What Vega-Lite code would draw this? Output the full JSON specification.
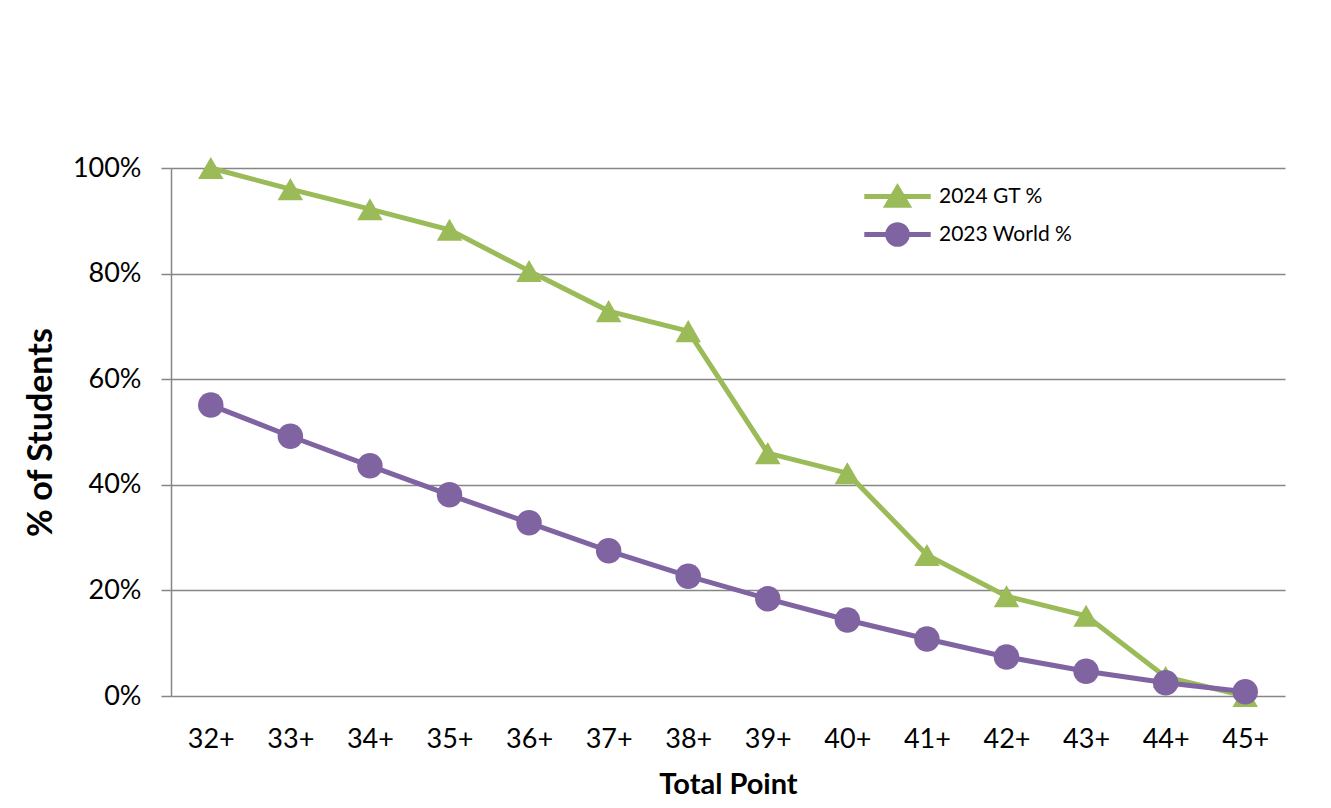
{
  "$schema": "https://vega.github.io/schema/vega-lite/v6.json",
  "width": 1114,
  "height": 528,
  "autosize": {"type": "none"},
  "padding": {"left": 171, "top": 168, "right": 46, "bottom": 112},
  "background": "white",
  "config": {
    "font": "Lato",
    "view": {"stroke": null},
    "axis": {"labelFont": "Lato", "titleFont": "Lato", "labelColor": "#000000", "titleColor": "#000000"}
  },
  "data": {
    "values": [
      {"point": "32+", "series": "2024 GT %", "value": 1.0},
      {"point": "33+", "series": "2024 GT %", "value": 0.96},
      {"point": "34+", "series": "2024 GT %", "value": 0.922},
      {"point": "35+", "series": "2024 GT %", "value": 0.883},
      {"point": "36+", "series": "2024 GT %", "value": 0.805},
      {"point": "37+", "series": "2024 GT %", "value": 0.729},
      {"point": "38+", "series": "2024 GT %", "value": 0.691},
      {"point": "39+", "series": "2024 GT %", "value": 0.46},
      {"point": "40+", "series": "2024 GT %", "value": 0.422},
      {"point": "41+", "series": "2024 GT %", "value": 0.267},
      {"point": "42+", "series": "2024 GT %", "value": 0.189},
      {"point": "43+", "series": "2024 GT %", "value": 0.152},
      {"point": "44+", "series": "2024 GT %", "value": 0.036},
      {"point": "45+", "series": "2024 GT %", "value": 0.0},
      {"point": "32+", "series": "2023 World %", "value": 0.551},
      {"point": "33+", "series": "2023 World %", "value": 0.492},
      {"point": "34+", "series": "2023 World %", "value": 0.436},
      {"point": "35+", "series": "2023 World %", "value": 0.381},
      {"point": "36+", "series": "2023 World %", "value": 0.328},
      {"point": "37+", "series": "2023 World %", "value": 0.275},
      {"point": "38+", "series": "2023 World %", "value": 0.227},
      {"point": "39+", "series": "2023 World %", "value": 0.184},
      {"point": "40+", "series": "2023 World %", "value": 0.144},
      {"point": "41+", "series": "2023 World %", "value": 0.108},
      {"point": "42+", "series": "2023 World %", "value": 0.074},
      {"point": "43+", "series": "2023 World %", "value": 0.047},
      {"point": "44+", "series": "2023 World %", "value": 0.025},
      {"point": "45+", "series": "2023 World %", "value": 0.008}
    ]
  },
  "encoding": {
    "x": {
      "field": "point", "type": "ordinal",
      "scale": {"type": "point", "padding": 0.5},
      "axis": {
        "title": "Total Point", "titleFontSize": 29, "titleFontWeight": "bold", "titlePadding": 18,
        "labelFontSize": 27, "labelAngle": 0, "labelPadding": 30, "ticks": false,
        "domain": false, "grid": false
      }
    },
    "y": {
      "field": "value", "type": "quantitative",
      "scale": {"domain": [0, 1]},
      "axis": {
        "title": "% of Students", "titleFontSize": 34, "titleFontWeight": "bold", "titlePadding": 14,
        "format": "%", "values": [0, 0.2, 0.4, 0.6, 0.8, 1.0],
        "labelFontSize": 27, "labelPadding": 20, "tickSize": 10, "tickColor": "#868686", "tickWidth": 1.5,
        "domainColor": "#868686", "domainWidth": 1.5,
        "grid": true, "gridColor": "#868686", "gridWidth": 1.5
      }
    },
    "color": {
      "field": "series", "type": "nominal",
      "scale": {"domain": ["2024 GT %", "2023 World %"], "range": ["#9BBB59", "#8064A2"]},
      "legend": {
        "title": null, "orient": "none", "legendX": 708, "legendY": 10,
        "labelFontSize": 21, "labelFont": "Lato", "labelColor": "#000000",
        "symbolSize": 1000, "symbolStrokeWidth": 5, "rowPadding": -2, "labelOffset": 23,
        "encode": {
          "symbols": {
            "update": {
              "shape": {"signal": "datum.value === '2024 GT %' ? 'M-2.1,0H2.1M-0.65,0.55L0,-0.55L0.65,0.55Z' : 'M-2.1,0H2.1M0.62,0A0.62,0.62 0 1,1 -0.62,0A0.62,0.62 0 1,1 0.62,0Z'"},
              "fill": {"signal": "datum.value === '2024 GT %' ? '#9BBB59' : '#8064A2'"},
              "stroke": {"signal": "datum.value === '2024 GT %' ? '#9BBB59' : '#8064A2'"},
              "strokeWidth": {"value": 5},
              "fillOpacity": {"value": 1},
              "opacity": {"value": 1}
            }
          }
        }
      }
    }
  },
  "layer": [
    {
      "mark": {"type": "line", "strokeWidth": 5}
    },
    {
      "transform": [{"filter": "datum.series === '2024 GT %'"}],
      "mark": {"type": "point", "filled": true, "opacity": 1, "size": 650, "shape": "triangle-up"}
    },
    {
      "transform": [{"filter": "datum.series === '2023 World %'"}],
      "mark": {"type": "point", "filled": true, "opacity": 1, "size": 650, "shape": "circle"}
    }
  ]
}
